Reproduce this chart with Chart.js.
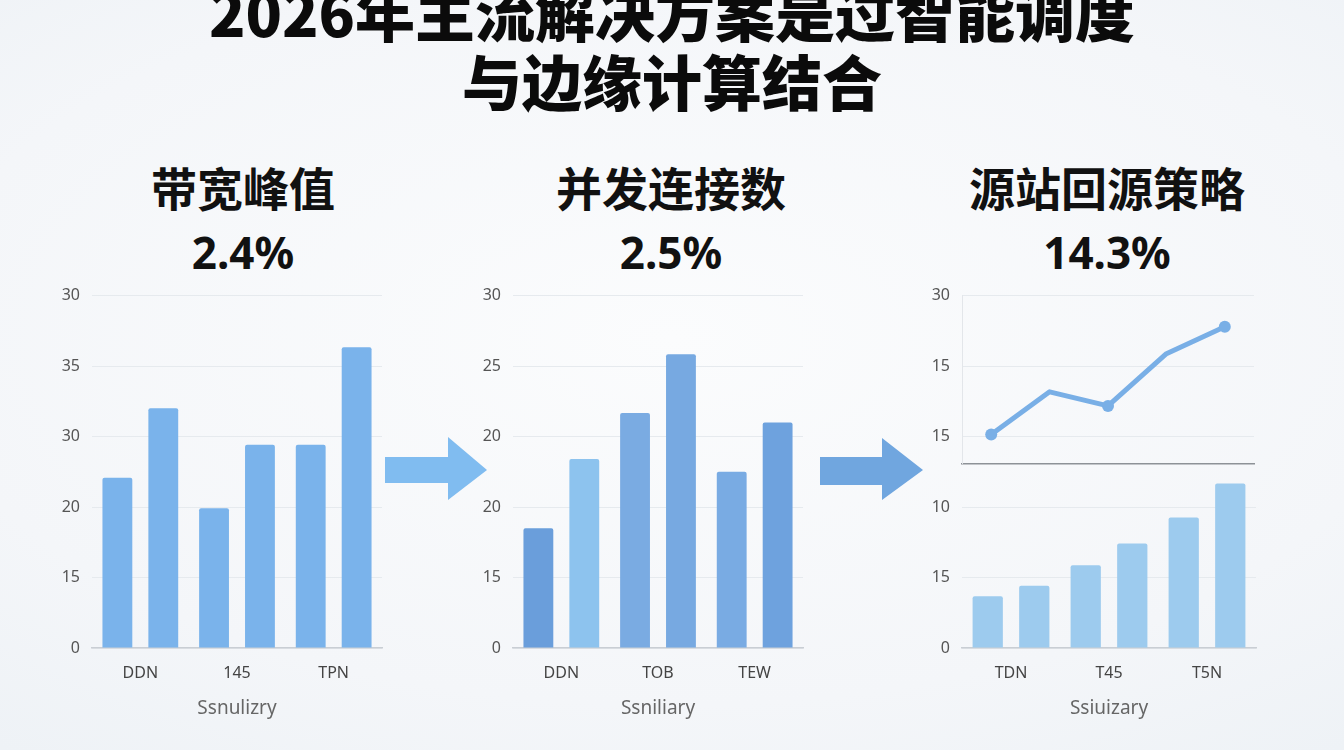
<!DOCTYPE html>
<html lang="zh">
<head>
<meta charset="utf-8">
<script src="https://cdn.jsdelivr.net/npm/chart.js@4.4.1/dist/chart.umd.min.js"></script>
<style>
  html,body{ margin:0; padding:0; }
  body{
    width:1344px; height:750px; overflow:hidden; position:relative;
    background: radial-gradient(ellipse 80% 70% at 50% 45%, #fbfcfd 0%, #f4f6f9 70%, #eef2f6 100%);
    font-family: "Noto Sans CJK SC", "Noto Sans", sans-serif;
  }
  .title{
    position:absolute; left:0; width:1344px; top:-24px; text-align:center;
    font-size:60px; line-height:69px; font-weight:900; color:#0b0b0b;
  }
  .ptitle{ position:absolute; width:360px; text-align:center; color:#111; font-weight:700; }
  .ptitle .name{ font-size:46px; line-height:60px; }
  .ptitle .pct{ font-family:"Noto Sans", sans-serif; font-size:44px; line-height:60px; margin-top:6px; }
  canvas{ position:absolute; }
  svg.arrow{ position:absolute; }
</style>
</head>
<body>
<div class="title">2026年主流解决方案是过智能调度<br>与边缘计算结合</div>

<div class="ptitle" style="left:63px; top:156px;"><div class="name">带宽峰值</div><div class="pct">2.4%</div></div>
<div class="ptitle" style="left:491px; top:156px;"><div class="name">并发连接数</div><div class="pct">2.5%</div></div>
<div class="ptitle" style="left:927px; top:156px;"><div class="name">源站回源策略</div><div class="pct">14.3%</div></div>

<!-- arrows between panels -->
<svg class="arrow" style="left:380px; top:430px;" width="115" height="80">
  <polygon points="5,27 68,27 68,7 107,40 68,70 68,53 5,53" fill="#80bcf0"/>
</svg>
<svg class="arrow" style="left:815px; top:430px;" width="115" height="80">
  <polygon points="5,27 67,27 67,8 108,40 67,70 67,55 5,55" fill="#70a6df"/>
</svg>

<canvas id="c1" style="left:40px; top:274px;" width="345" height="451"></canvas>
<canvas id="c2" style="left:460px; top:274px;" width="346" height="451"></canvas>
<canvas id="c3top" style="left:905px; top:274px;" width="355" height="211"></canvas>
<canvas id="c3bot" style="left:905px; top:449px;" width="355" height="276"></canvas>

<script>
// ===== data =====
// 带宽峰值
const bwCats  = ['DDN', '145', 'TPN'];
const bwTicks = ['0', '15', '20', '30', '35', '30'];   // bottom -> top
const bwA = [14.5, 11.9, 17.3];
const bwB = [20.4, 17.3, 25.6];
const bwTitle = 'Ssnulizry';

// 并发连接数
const ccCats  = ['DDN', 'TOB', 'TEW'];
const ccTicks = ['0', '15', '20', '20', '25', '30'];
const ccA = [10.2, 20.0, 15.0];
const ccB = [16.1, 25.0, 19.2];
const ccTitle = 'Ssniliary';

// 源站回源策略 (line on top, bars below)
const osLineCats  = ['p1', 'p2', 'p3', 'p4', 'p5'];
const osLine      = [0.17, 3.8, 2.6, 7.05, 9.35];
const osLineTicks = ['15', '15', '30'];
const osCats  = ['TDN', 'T45', 'T5N'];
const osTicks = ['0', '15', '10'];
const osA = [4.4, 7.05, 11.1];
const osB = [5.3, 8.9, 14.0];
const osTitle = 'Ssiuizary';

// ===== helpers =====
const GRID = '#e6eaee';
const AXIS = '#c9ced4';
const TICKC = '#555';

Chart.defaults.animation = false;
Chart.defaults.font.family = '"Noto Sans", "DejaVu Sans", sans-serif';

function barChart(id, cats, a, b, colA, colB, opts){
  return new Chart(document.getElementById(id), {
    type: 'bar',
    data: { labels: cats, datasets: [
      { data: a, backgroundColor: colA, borderRadius: 2, borderSkipped: 'bottom',
        barPercentage: 0.65, categoryPercentage: 0.95 },
      { data: b, backgroundColor: colB, borderRadius: 2, borderSkipped: 'bottom',
        barPercentage: 0.65, categoryPercentage: 0.95 }
    ]},
    options: {
      responsive: false,
      layout: { padding: { top: 0, right: opts.padRight, bottom: 0, left: 0 } },
      plugins: { legend: { display: false }, tooltip: { enabled: false } },
      scales: {
        x: {
          grid: { display: false, drawTicks: false },
          border: { color: AXIS, width: 1.5 },
          ticks: { color: '#444', font: { size: 16 }, padding: 16 },
          title: { display: true, text: opts.title, color: '#666', font: { size: 19 }, padding: { top: 0, bottom: 5 } },
          afterFit: s => { s.height = 77; }
        },
        y: {
          min: 0, max: opts.max,
          afterBuildTicks: s => { s.ticks = opts.tickVals.map(v => ({ value: v })); },
          grid: { color: GRID, drawTicks: false },
          border: { display: false },
          ticks: { color: TICKC, font: { size: 16 }, padding: 12,
                   callback: (v, i) => opts.tickText[i] },
          afterFit: s => { s.width = opts.yw; }
        }
      }
    }
  });
}

// panel 1
barChart('c1', bwCats, bwA, bwB, '#7ab3eb', '#7ab3eb',
  { padRight: 3, max: 30, tickVals: [0, 6, 12, 18, 24, 30], tickText: bwTicks, yw: 52, title: bwTitle });

// panel 2
barChart('c2', ccCats, ccA, ccB,
  ['#6a9edb', '#7aabe2', '#79abe3'], ['#8dc3ee', '#77a9e1', '#6ea2de'],
  { padRight: 3, max: 30, tickVals: [0, 6, 12, 18, 24, 30], tickText: ccTicks, yw: 53, title: ccTitle });

// panel 3 bottom bars
barChart('c3bot', osCats, osA, osB, '#9dcbee', '#9dcbee',
  { padRight: 4, max: 15.1, tickVals: [0, 6, 12], tickText: osTicks, yw: 57, title: osTitle });

// panel 3 top line
new Chart(document.getElementById('c3top'), {
  type: 'line',
  data: { labels: osLineCats, datasets: [{
    data: osLine, borderColor: '#79afe6', borderWidth: 5, tension: 0,
    pointRadius: [6, 0, 6, 0, 6], pointBackgroundColor: '#79afe6', pointBorderWidth: 0,
    borderCapStyle: 'round', borderJoinStyle: 'round'
  }]},
  options: {
    responsive: false,
    layout: { padding: { top: 0, right: 4, bottom: 0, left: 0 } },
    plugins: { legend: { display: false }, tooltip: { enabled: false } },
    scales: {
      x: {
        offset: true,
        grid: { display: false, drawTicks: false },
        border: { color: '#8d9297', width: 1.5 },
        ticks: { display: false },
        afterFit: s => { s.height = 2; }
      },
      y: {
        min: -2.3, max: 12,
        afterBuildTicks: s => { s.ticks = [0, 6, 12].map(v => ({ value: v })); },
        grid: { color: GRID, drawTicks: false },
        border: { display: true, color: '#e3e6ea' },
        ticks: { color: TICKC, font: { size: 16 }, padding: 12,
                 callback: (v, i) => osLineTicks[i] },
        afterFit: s => { s.width = 57; }
      }
    }
  }
});
</script>
</body>
</html>
